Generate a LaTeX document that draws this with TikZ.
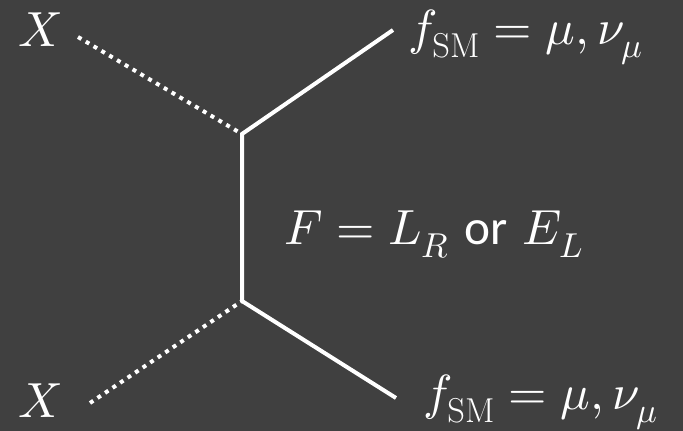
\documentclass[tikz,border=0pt]{standalone}
\usepackage{amsmath}
\usepackage{fontspec}
\usepackage{unicode-math}
\setmathfont{Latin Modern Math}
\newfontfamily\orfont{Carlito}
\usepackage{tikz}
\usetikzlibrary{positioning}
\definecolor{bgdark}{RGB}{64,64,64}

\begin{document}
\begin{tikzpicture}[x=0.75pt, y=-0.75pt,
label/.style={text=white, inner sep=0pt, anchor=base west, font=\fontsize{37}{40}\selectfont},
fermion/.style={draw=white, line width=3pt},
scalar/.style={draw=white, line width=3pt, dash pattern=on 3pt off 3.8pt}
]
% Background and picture size
\fill[bgdark] (0,0) rectangle (683,431);
\useasboundingbox (0,0) rectangle (683,431);
% Define the vertices and free ends
\coordinate (vtop) at (242,134);
\coordinate (vbot) at (242,301);
\coordinate (xtop-end) at (78,37);
\coordinate (xbot-end) at (90,403);
\coordinate (ftop-end) at (393,30);
\coordinate (fbot-end) at (396,398);
% Add the labels
\node[label] (xtop) at (18,47) {$X$};
\node[label] (xbot) at (18,417) {$X$};
\node[label] (ftop) at (408,45) {$f_{\mathrm{SM}} = \mu, \nu_\mu$};
\node[label] (fbot) at (423,410) {$f_{\mathrm{SM}} = \mu, \nu_\mu$};
\node[label] (fmed) at (284,245) {$F = L_R$ {\orfont or} $E_L$};
% Draw the lines
\draw[scalar] (xtop-end) -- (vtop);
\draw[scalar] (xbot-end) -- (vbot);
\draw[fermion, line join=miter] (ftop-end) -- (vtop) -- (vbot) -- (fbot-end);
\end{tikzpicture}
\end{document}
